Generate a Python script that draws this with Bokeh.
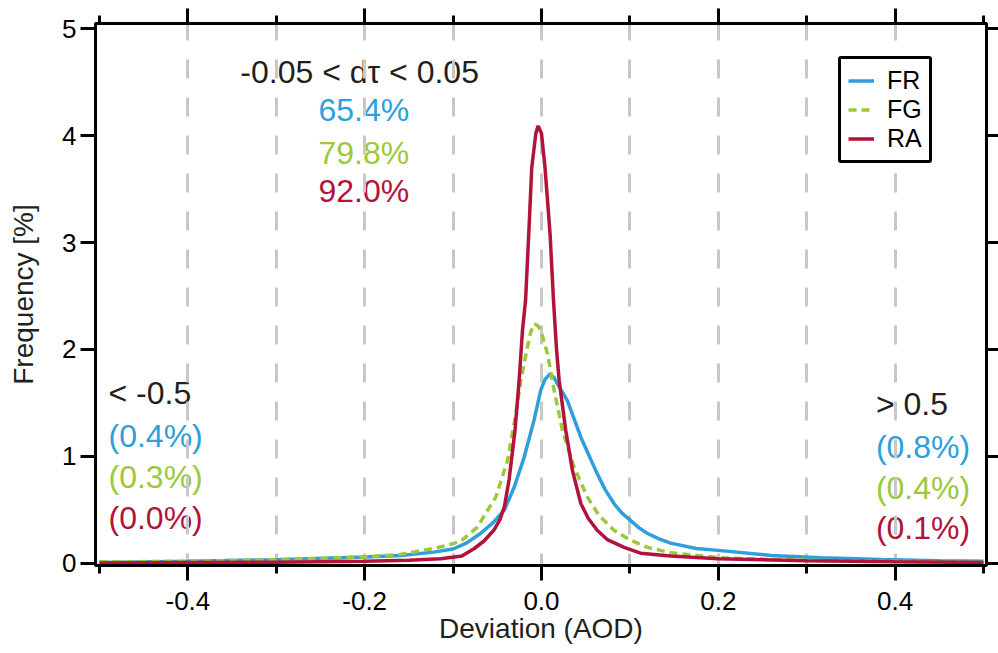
from bokeh.plotting import figure
from bokeh.models import (LinearAxis, FixedTicker, Legend, LegendItem,
                          ColumnDataSource, Range1d)
from bokeh.core.properties import value
from bokeh.embed import file_html
from bokeh.resources import INLINE

# ---------------- data ----------------
x_fr = [-0.5, -0.4, -0.3, -0.2, -0.159, -0.122, -0.1, -0.085, -0.069, -0.055,
        -0.042, -0.031, -0.0197, -0.0084, -0.0008, 0.004, 0.0094, 0.014, 0.018,
        0.0294, 0.0445, 0.063, 0.072, 0.082, 0.091, 0.101, 0.11, 0.12, 0.133,
        0.146, 0.175, 0.203, 0.26, 0.316, 0.384, 0.45, 0.5]
y_fr = [0.01, 0.02, 0.035, 0.06, 0.075, 0.106, 0.135, 0.19, 0.28, 0.38,
        0.50, 0.71, 0.99, 1.34, 1.62, 1.72, 1.77, 1.74, 1.68,
        1.52, 1.18, 0.84, 0.69, 0.56, 0.47, 0.40, 0.335, 0.28, 0.23,
        0.19, 0.14, 0.12, 0.075, 0.053, 0.037, 0.025, 0.02]

x_fg = [-0.5, -0.4, -0.3, -0.2, -0.16, -0.122, -0.106, -0.091, -0.0725, -0.0517,
        -0.0385, -0.029, -0.0234, -0.016, -0.012, -0.0075, -0.004, -0.0008, 0.0068,
        0.0143, 0.0238, 0.0369, 0.052, 0.065, 0.082, 0.1, 0.12, 0.146, 0.2,
        0.26, 0.3, 0.4, 0.5]
y_fg = [0.015, 0.02, 0.035, 0.06, 0.085, 0.14, 0.17, 0.21, 0.34, 0.62,
        0.96, 1.40, 1.71, 2.02, 2.17, 2.24, 2.22, 2.18, 1.96,
        1.62, 1.24, 0.90, 0.62, 0.45, 0.31, 0.22, 0.15, 0.10, 0.055,
        0.037, 0.03, 0.02, 0.01]

x_ra = [-0.5, -0.4, -0.3, -0.2, -0.15, -0.114, -0.09, -0.076, -0.065, -0.054,
        -0.047, -0.042, -0.0367, -0.030, -0.0253, -0.0215, -0.018, -0.0144, -0.011,
        -0.0064, -0.0038, 0.0, 0.004, 0.0097, 0.0136, 0.017, 0.020, 0.0275, 0.035,
        0.0445, 0.053, 0.063, 0.075, 0.0935, 0.112, 0.146, 0.2, 0.3, 0.4, 0.5]
y_ra = [0.005, 0.008, 0.012, 0.02, 0.03, 0.045, 0.07, 0.14, 0.21, 0.31,
        0.41, 0.53, 0.78, 1.24, 1.71, 2.18, 2.46, 3.08, 3.70,
        4.02, 4.09, 4.02, 3.70, 3.08, 2.46, 2.0, 1.71, 1.24, 0.87,
        0.56, 0.42, 0.31, 0.22, 0.15, 0.096, 0.07, 0.045, 0.025, 0.015, 0.01]

series_names = ["FR", "FG", "RA"]
series_colors = ["#2d9fdc", "#9cc83c", "#b3123b"]

x_major_ticks = [-0.4, -0.2, 0.0, 0.2, 0.4]
x_tick_labels = ["-0.4", "-0.2", "0.0", "0.2", "0.4"]
x_minor_ticks = [-0.5, -0.3, -0.1, 0.1, 0.3, 0.5]
y_major_ticks = [0, 1, 2, 3, 4, 5]
y_tick_labels = ["0", "1", "2", "3", "4", "5"]
grid_ticks = [-0.4, -0.3, -0.2, -0.1, 0.0, 0.1, 0.2, 0.3, 0.4]

center_title = "-0.05 < d\u03c4 < 0.05"
center_pcts = ["65.4%", "79.8%", "92.0%"]
low_title = "< -0.5"
low_pcts = ["(0.4%)", "(0.3%)", "(0.0%)"]
high_title = "> 0.5"
high_pcts = ["(0.8%)", "(0.4%)", "(0.1%)"]

# ---------------- figure ----------------
FONT = "Liberation Sans"
INK = "#231f20"

p = figure(width=998, height=653,
           x_range=Range1d(-0.5045, 0.5034), y_range=Range1d(-0.019, 5.047),
           output_backend="svg", toolbar_location=None,
           min_border_left=95, min_border_right=12,
           min_border_top=23, min_border_bottom=88,
           x_axis_label="Deviation (AOD)", y_axis_label="Frequency [%]")
p.background_fill_color = "white"
p.border_fill_color = "white"
p.outline_line_color = "black"
p.outline_line_width = 3

def style_axis(ax):
    ax.axis_line_width = 3
    ax.axis_line_color = "black"
    ax.major_tick_line_width = 3
    ax.minor_tick_line_width = 3
    ax.major_tick_line_color = "black"
    ax.minor_tick_line_color = "black"
    ax.major_tick_out = 15
    ax.major_tick_in = 0
    ax.minor_tick_out = 8
    ax.minor_tick_in = 0
    ax.major_label_text_font = FONT
    ax.major_label_text_color = "black"
    ax.major_label_text_font_size = "26px"

# bottom axis
xa = p.xaxis[0]
xa.ticker = FixedTicker(ticks=x_major_ticks, minor_ticks=x_minor_ticks)
xa.major_label_overrides = {t: l for t, l in zip(x_major_ticks, x_tick_labels)}
style_axis(xa)
xa.major_label_standoff = 11
xa.axis_label_standoff = 0
xa.axis_label_text_font = FONT
xa.axis_label_text_font_size = "28px"
xa.axis_label_text_font_style = "normal"
xa.axis_label_text_color = INK

# left axis
ya = p.yaxis[0]
ya.ticker = FixedTicker(ticks=y_major_ticks, minor_ticks=[])
ya.major_label_overrides = {t: l for t, l in zip(y_major_ticks, y_tick_labels)}
style_axis(ya)
ya.major_label_standoff = 4
ya.axis_label_standoff = 20
ya.axis_label_text_font = FONT
ya.axis_label_text_font_size = "28px"
ya.axis_label_text_font_style = "normal"
ya.axis_label_text_color = INK

# top and right axes (ticks only, no labels)
top = LinearAxis(ticker=FixedTicker(ticks=x_major_ticks, minor_ticks=x_minor_ticks))
style_axis(top)
top.major_label_overrides = {t: "" for t in x_major_ticks}
top.major_label_text_font_size = "0px"
top.major_label_standoff = 0
p.add_layout(top, "above")

right = LinearAxis(ticker=FixedTicker(ticks=y_major_ticks, minor_ticks=[]))
style_axis(right)
right.major_label_overrides = {t: "" for t in y_major_ticks}
right.major_label_text_font_size = "0px"
right.major_label_standoff = 0
right.major_tick_out = 12
p.add_layout(right, "right")

# grid
p.ygrid.visible = False
p.xgrid.ticker = FixedTicker(ticks=grid_ticks)
p.xgrid.grid_line_color = "#c8c8c8"
p.xgrid.grid_line_width = 3
p.xgrid.grid_line_dash = "19 19"
p.xgrid.grid_line_dash_offset = 7

# annotations (below the grid, like the reference)
def add_texts(xs, ys, texts, colors, align):
    src = ColumnDataSource(dict(x=xs, y=ys, text=texts, color=colors))
    p.text(x="x", y="y", text="text", text_color="color", source=src,
           text_font=value(FONT), text_font_size="32px",
           text_align=align, text_baseline="middle", level="image")

add_texts([-0.2057, -0.201, -0.201, -0.201], [4.598, 4.234, 3.841, 3.477],
          [center_title] + center_pcts, [INK] + series_colors, "center")
add_texts([-0.4898] * 4, [1.598, 1.196, 0.804, 0.421],
          [low_title] + low_pcts, [INK] + series_colors, "left")
add_texts([0.3783] * 4, [1.486, 1.084, 0.710, 0.327],
          [high_title] + high_pcts, [INK] + series_colors, "left")

# curves
r_fr = p.line(x_fr, y_fr, line_color=series_colors[0], line_width=3.5)
r_fg = p.line(x_fg, y_fg, line_color=series_colors[1], line_width=3.5,
              line_dash="8 5")
r_ra = p.line(x_ra, y_ra, line_color=series_colors[2], line_width=3.5)

legend = Legend(items=[LegendItem(label=series_names[0], renderers=[r_fr]),
                       LegendItem(label=series_names[1], renderers=[r_fg]),
                       LegendItem(label=series_names[2], renderers=[r_ra])],
                location=(743, 402))
legend.label_text_font = FONT
legend.label_text_font_size = "25px"
legend.label_text_color = "black"
legend.label_height = 25
legend.glyph_height = 25
legend.glyph_width = 26
legend.label_standoff = 13
legend.spacing = -1
legend.padding = 7
legend.margin = 0
legend.border_line_color = "black"
legend.border_line_alpha = 1.0
legend.border_line_width = 3
legend.border_radius = 3
legend.background_fill_color = "white"
legend.background_fill_alpha = 1.0
p.add_layout(legend, "center")

open("out.html", "w").write(file_html(p, INLINE))
